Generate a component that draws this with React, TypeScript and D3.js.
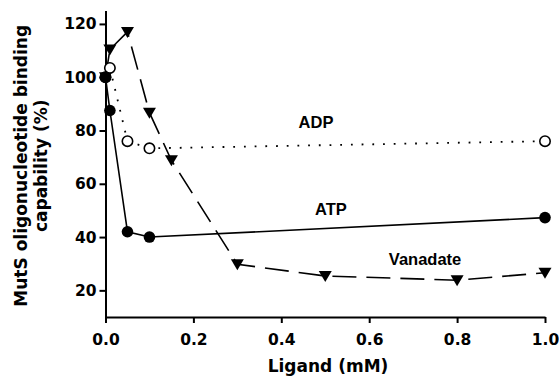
import React, { useEffect, useRef } from 'react';
import * as d3 from 'd3';

const atpX = [0, 0.01, 0.05, 0.1, 1.0];
const atpY = [100, 87.5, 42, 40, 47.3];
const adpX = [0, 0.01, 0.05, 0.1, 1.0];
const adpY = [100, 103.5, 76, 73.3, 76];
const vanX = [0, 0.01, 0.05, 0.1, 0.15, 0.3, 0.5, 0.8, 1.0];
const vanY = [100, 110.4, 117, 86.7, 68.8, 29.8, 25.4, 23.8, 26.6];

const xTicks = [0, 0.2, 0.4, 0.6, 0.8, 1.0];
const yTicks = [20, 40, 60, 80, 100, 120];

const seriesLabels = [
  { text: 'ADP', x: 0.479, y: 80.9 },
  { text: 'ATP', x: 0.513, y: 48.3 },
  { text: 'Vanadate', x: 0.727, y: 29.5 }
];

const WIDTH = 559;
const HEIGHT = 377;

const App: React.FC = () => {
  const svgRef = useRef<SVGSVGElement>(null);

  useEffect(() => {
    if (!svgRef.current) return;
    const svg = d3.select(svgRef.current);
    svg.selectAll('*').remove();

    const margin = { top: 10, right: 14, bottom: 60, left: 105.5 };
    const xScale = d3.scaleLinear().domain([0, 1]).range([margin.left, WIDTH - margin.right]);
    const yScale = d3.scaleLinear().domain([10, 125]).range([HEIGHT - margin.bottom, margin.top + 0.6]);

    const tickFont = 'DejaVu Sans, Verdana, sans-serif';

    // axes
    const xAxis = svg.append('g')
      .attr('transform', `translate(0,${yScale(10)})`)
      .call(d3.axisBottom(xScale).tickValues(xTicks).tickFormat(d3.format('.1f')).tickSize(6).tickSizeOuter(0));
    xAxis.select('.domain').attr('stroke', '#000').attr('stroke-width', 2);
    xAxis.selectAll('.tick line').attr('stroke', '#000').attr('stroke-width', 2);
    xAxis.selectAll('.tick text')
      .attr('y', 23)
      .attr('dy', '0.35em')
      .style('font-family', tickFont)
      .style('font-size', '15.5px')
      .style('font-weight', 'bold')
      .style('fill', '#000');

    const yAxis = svg.append('g')
      .attr('transform', `translate(${xScale(0)},0)`)
      .call(d3.axisLeft(yScale).tickValues(yTicks).tickSize(6).tickSizeOuter(0));
    yAxis.select('.domain').attr('stroke', '#000').attr('stroke-width', 2);
    yAxis.selectAll('.tick line').attr('stroke', '#000').attr('stroke-width', 2);
    yAxis.selectAll('.tick text')
      .attr('x', -9)
      .style('font-family', tickFont)
      .style('font-size', '15.5px')
      .style('font-weight', 'bold')
      .style('fill', '#000');

    // axis titles
    svg.append('text')
      .attr('x', 328)
      .attr('y', 372)
      .attr('text-anchor', 'middle')
      .style('font-family', tickFont)
      .style('font-size', '17px')
      .style('font-weight', 'bold')
      .text('Ligand (mM)');

    const yTitle = svg.append('text')
      .attr('transform', `translate(0,${(yScale(10) + yScale(125)) / 2 + 2}) rotate(-90)`)
      .attr('text-anchor', 'middle')
      .style('font-family', tickFont)
      .style('font-size', '17px')
      .style('font-weight', 'bold');
    yTitle.append('tspan').attr('x', 0).attr('y', 27).text('MutS oligonucleotide binding');
    yTitle.append('tspan').attr('x', 0).attr('y', 47).text('capability (%)');

    const line = d3.line<[number, number]>()
      .x(d => xScale(d[0]))
      .y(d => yScale(d[1]));

    const van = vanX.map((x, i) => [x, vanY[i]] as [number, number]);
    const adp = adpX.map((x, i) => [x, adpY[i]] as [number, number]);
    const atp = atpX.map((x, i) => [x, atpY[i]] as [number, number]);

    // Vanadate: dashed line, down triangles
    svg.append('path')
      .attr('d', line(van))
      .attr('fill', 'none')
      .attr('stroke', '#000')
      .attr('stroke-width', 1.6)
      .attr('stroke-dasharray', '24,10');
    svg.selectAll('.van')
      .data(van)
      .enter()
      .append('path')
      .attr('d', 'M-6.5,-5 L6.5,-5 L0,6 Z')
      .attr('transform', d => `translate(${xScale(d[0])},${yScale(d[1])})`)
      .attr('fill', '#000');

    // ADP: dotted line, open circles
    svg.append('path')
      .attr('d', line(adp))
      .attr('fill', 'none')
      .attr('stroke', '#000')
      .attr('stroke-width', 1.8)
      .attr('stroke-dasharray', '1.8,8.9');
    svg.selectAll('.adp')
      .data(adp)
      .enter()
      .append('circle')
      .attr('cx', d => xScale(d[0]))
      .attr('cy', d => yScale(d[1]))
      .attr('r', 5.2)
      .attr('fill', '#fff')
      .attr('stroke', '#000')
      .attr('stroke-width', 1.6);

    // ATP: solid line, filled circles
    svg.append('path')
      .attr('d', line(atp))
      .attr('fill', 'none')
      .attr('stroke', '#000')
      .attr('stroke-width', 1.6);
    svg.selectAll('.atp')
      .data(atp)
      .enter()
      .append('circle')
      .attr('cx', d => xScale(d[0]))
      .attr('cy', d => yScale(d[1]))
      .attr('r', 5.8)
      .attr('fill', '#000');

    // series labels
    seriesLabels.forEach(l => {
      svg.append('text')
        .attr('x', xScale(l.x))
        .attr('y', yScale(l.y))
        .attr('text-anchor', 'middle')
        .style('font-family', 'Liberation Sans, Arial, sans-serif')
        .style('font-size', '16.5px')
        .style('font-weight', 'bold')
        .text(l.text);
    });
  }, []);

  return (
    <svg
      ref={svgRef}
      width={WIDTH}
      height={HEIGHT}
      style={{ position: 'absolute', left: 0, top: 0, background: '#fff' }}
    />
  );
};

export default App;
